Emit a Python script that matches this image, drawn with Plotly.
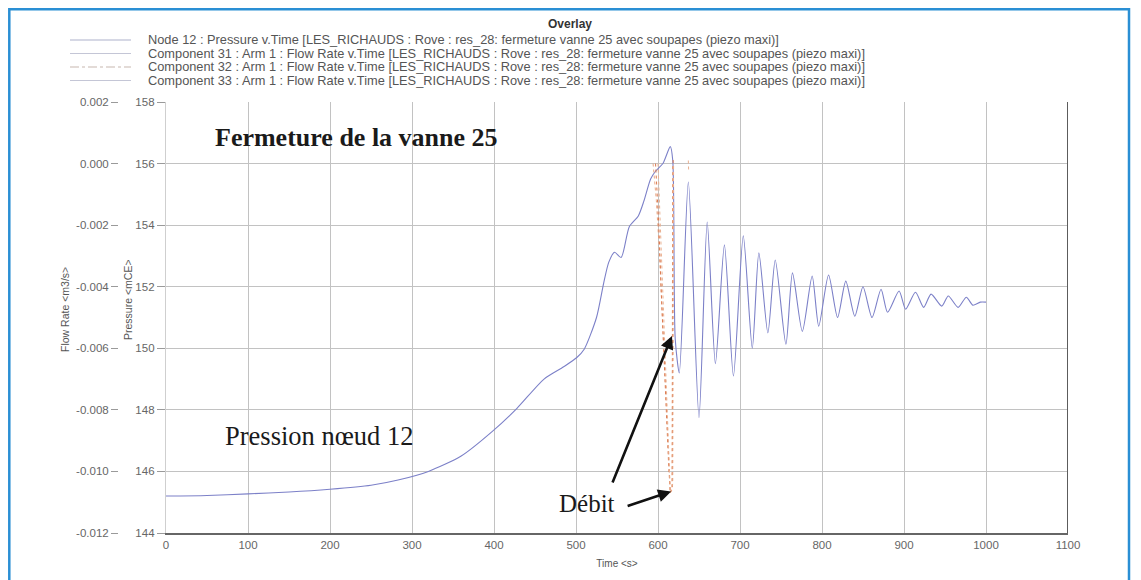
import plotly.graph_objects as go

# ---------------- data ----------------
time_node12 = [0, 50, 100, 150, 200, 250, 283, 320, 360, 398, 428, 461, 485, 501, 510, 525, 534, 540,
               547, 555, 565, 576, 583, 591, 597, 606, 615, 618, 621, 626, 637, 650, 660, 670, 681,
               692, 704, 715, 723, 734, 743, 756, 764, 776, 788, 796, 808, 819, 829, 840, 850, 861,
               872, 880, 894, 902, 914, 924, 933, 946, 954, 966, 976, 984, 993, 1000]
pressure_node12 = [145.2, 145.22, 145.27, 145.33, 145.42, 145.55, 145.72, 146.0, 146.5, 147.3, 148.05,
                   149.0, 149.4, 149.7, 149.97, 151.0, 152.15, 152.8, 153.12, 152.95, 153.95, 154.3,
                   154.8, 155.5, 155.75, 156.0, 156.55, 156.1, 150.3, 149.2, 155.4, 147.75, 154.1,
                   149.5, 153.36, 149.1, 153.65, 150.0, 153.1, 150.5, 152.87, 150.13, 152.45, 150.55,
                   152.35, 150.72, 152.38, 151.0, 152.18, 151.04, 152.0, 151.0, 151.92, 151.17, 151.86,
                   151.27, 151.82, 151.33, 151.76, 151.37, 151.7, 151.33, 151.66, 151.4, 151.5, 151.5]

time_c31 = [594, 598, 602, 606, 610, 613, 615, 617, 618]
flow_c31 = [0.0, -0.0012, -0.003, -0.0052, -0.0075, -0.0095, -0.0107, -0.0106, 0.0]

time_c32 = [597, 601, 604, 607, 610, 613, 615, 617.5, 618.5]
flow_c32 = [0.0, -0.002, -0.0042, -0.0062, -0.0082, -0.0098, -0.0107, -0.0105, 0.0002]

time_c33 = [600, 604, 608, 612, 615, 618, 619, None, 637, 637.3]
flow_c33 = [0.0, -0.003, -0.006, -0.009, -0.0107, -0.0104, 0.0, None, 0.0001, -0.0002]

x_ticks = [0, 100, 200, 300, 400, 500, 600, 700, 800, 900, 1000, 1100]
p_ticks = [144, 146, 148, 150, 152, 154, 156, 158]
q_ticks = [-0.012, -0.010, -0.008, -0.006, -0.004, -0.002, 0.000, 0.002]
q_ticktext = ["-0.012", "-0.010", "-0.008", "-0.006", "-0.004", "-0.002", "0.000", "0.002"]

legend_labels = [
    "Node 12 : Pressure v.Time [LES_RICHAUDS : Rove : res_28: fermeture vanne 25 avec soupapes (piezo maxi)]",
    "Component 31 : Arm 1 : Flow Rate v.Time [LES_RICHAUDS : Rove : res_28: fermeture vanne 25 avec soupapes (piezo maxi)]",
    "Component 32 : Arm 1 : Flow Rate v.Time [LES_RICHAUDS : Rove : res_28: fermeture vanne 25 avec soupapes (piezo maxi)]",
    "Component 33 : Arm 1 : Flow Rate v.Time [LES_RICHAUDS : Rove : res_28: fermeture vanne 25 avec soupapes (piezo maxi)]",
]

# ---------------- layout helpers ----------------
OFF = 8                      # page body margin
W, H = 1141 - OFF, 580 - OFF
ML, MR, MT, MB = 2, 73, 94, 47
PW = W - ML - MR
PH = H - MT - MB


def px(xw):
    """window pixel x -> paper x"""
    return (xw - OFF - ML) / PW


def py(yw):
    """window pixel y -> paper y"""
    return (H - MB - (yw - OFF)) / PH


SANS = "Liberation Sans, Arial, sans-serif"
SERIF = "Liberation Serif, Times New Roman, serif"
GRID = "#c2c2c2"
TICKC = "#666666"

fig = go.Figure()
fig.add_trace(go.Scatter(x=time_node12, y=pressure_node12, mode="lines", yaxis="y",
                         line=dict(color="#7c80c8", width=1.1, shape="spline", smoothing=0.7),
                         name=legend_labels[0]))
fig.add_trace(go.Scatter(x=time_c31, y=flow_c31, mode="lines", yaxis="y2",
                         line=dict(color="#eaa884", width=1, dash="dot"), name=legend_labels[1]))
fig.add_trace(go.Scatter(x=time_c32, y=flow_c32, mode="lines", yaxis="y2",
                         line=dict(color="#dc7a52", width=1, dash="dot"), name=legend_labels[2]))
fig.add_trace(go.Scatter(x=time_c33, y=flow_c33, mode="lines", yaxis="y2", connectgaps=False,
                         line=dict(color="#eab090", width=1, dash="dot"), name=legend_labels[3]))

fig.update_layout(
    width=W, height=H,
    margin=dict(l=ML, r=MR, t=MT, b=MB),
    paper_bgcolor="white", plot_bgcolor="white",
    showlegend=False,
    xaxis=dict(domain=[px(166), 1], range=[0, 1100], tickvals=x_ticks,
               ticktext=[str(v) for v in x_ticks], showgrid=True, gridcolor=GRID, gridwidth=1.3,
               zeroline=False, showline=True, linecolor="#666666", linewidth=2, ticks="",
               tickfont=dict(family=SANS, size=11.5, color=TICKC), automargin=False,
               title=dict(text="Time &lt;s&gt;", font=dict(family=SANS, size=10, color="#555"), standoff=10)),
    yaxis=dict(range=[144, 158], tickvals=p_ticks, ticktext=[str(v) for v in p_ticks],
               showgrid=True, gridcolor=GRID, gridwidth=1.3, zeroline=False,
               showline=True, linecolor="#cfcfcf", linewidth=1.3,
               ticks="outside", ticklen=8, tickcolor="#9a9a9a", tickwidth=1,
               tickfont=dict(family=SANS, size=11.5, color=TICKC), automargin=False),
    yaxis2=dict(range=[-0.012, 0.002], overlaying="y", anchor="free", position=px(118), side="left",
                tickvals=q_ticks, ticktext=q_ticktext, showgrid=False, zeroline=False, showline=False,
                ticks="outside", ticklen=7, tickcolor="#9a9a9a", tickwidth=1,
                tickfont=dict(family=SANS, size=11.5, color=TICKC), automargin=False),
)

shapes = []
# right frame of the plot
shapes.append(dict(type="line", xref="x", yref="paper", x0=1100, x1=1100, y0=0, y1=1,
                   line=dict(color="#5c5c5c", width=2)))
# blue border of the figure
shapes.append(dict(type="rect", xref="paper", yref="paper", x0=px(9.3), x1=px(1129), y0=py(640), y1=py(9.3),
                   line=dict(color="#2a8fd4", width=2.5), fillcolor="rgba(0,0,0,0)"))
# legend samples
legend_rows = [40, 53.5, 67, 80.5]
legend_dash = ["solid", "solid", "dashdot", "solid"]
legend_col = ["#aeb2cc", "#c4c6d6", "#c8b8b0", "#c4c6d6"]
for yy, dsh, col in zip(legend_rows, legend_dash, legend_col):
    shapes.append(dict(type="line", xref="paper", yref="paper", x0=px(70), x1=px(131), y0=py(yy), y1=py(yy),
                       line=dict(color=col, width=1.2, dash=dsh)))

annotations = []
annotations.append(dict(xref="paper", yref="paper", x=px(570), y=py(24), xanchor="center", yanchor="middle",
                        text="<b>Overlay</b>", showarrow=False, font=dict(family=SANS, size=12, color="#333")))
for yy, lab in zip(legend_rows, legend_labels):
    annotations.append(dict(xref="paper", yref="paper", x=px(147), y=py(yy), xanchor="left", yanchor="middle",
                            text=lab, showarrow=False, borderpad=0,
                            font=dict(family=SANS, size=12.8, color="#555")))
# axis titles
annotations.append(dict(xref="paper", yref="paper", x=px(65), y=py(310), xanchor="center", yanchor="middle",
                        text="Flow Rate &lt;m3/s&gt;", textangle=-90, showarrow=False,
                        font=dict(family=SANS, size=10.5, color="#555")))
annotations.append(dict(xref="paper", yref="paper", x=px(128), y=py(300), xanchor="center", yanchor="middle",
                        text="Pressure &lt;mCE&gt;", textangle=-90, showarrow=False,
                        font=dict(family=SANS, size=10.5, color="#555")))
# text labels in the plot
annotations.append(dict(xref="x", yref="y", x=57, y=156.86, xanchor="left", yanchor="middle",
                        text="<b>Fermeture de la vanne 25</b>", showarrow=False,
                        font=dict(family=SERIF, size=26, color="#1a1a1a")))
annotations.append(dict(xref="x", yref="y", x=304, y=147.15, xanchor="right", yanchor="middle",
                        text="Pression nœud 12", showarrow=False,
                        font=dict(family=SERIF, size=26.5, color="#1a1a1a")))
annotations.append(dict(xref="x", yref="y", x=477, y=144.97, xanchor="left", yanchor="middle",
                        text="Débit", showarrow=False,
                        font=dict(family=SERIF, size=25, color="#1a1a1a")))
# arrows
annotations.append(dict(xref="x", yref="y", x=617, y=150.4, ax=-60, ay=148, text="",
                        showarrow=True, arrowhead=2, arrowsize=1, arrowwidth=2.6, arrowcolor="#111"))
annotations.append(dict(xref="x", yref="y", x=616, y=145.35, ax=-45, ay=15, text="",
                        showarrow=True, arrowhead=2, arrowsize=1, arrowwidth=2.6, arrowcolor="#111"))

fig.update_layout(shapes=shapes, annotations=annotations)
fig.write_html("out.html")
